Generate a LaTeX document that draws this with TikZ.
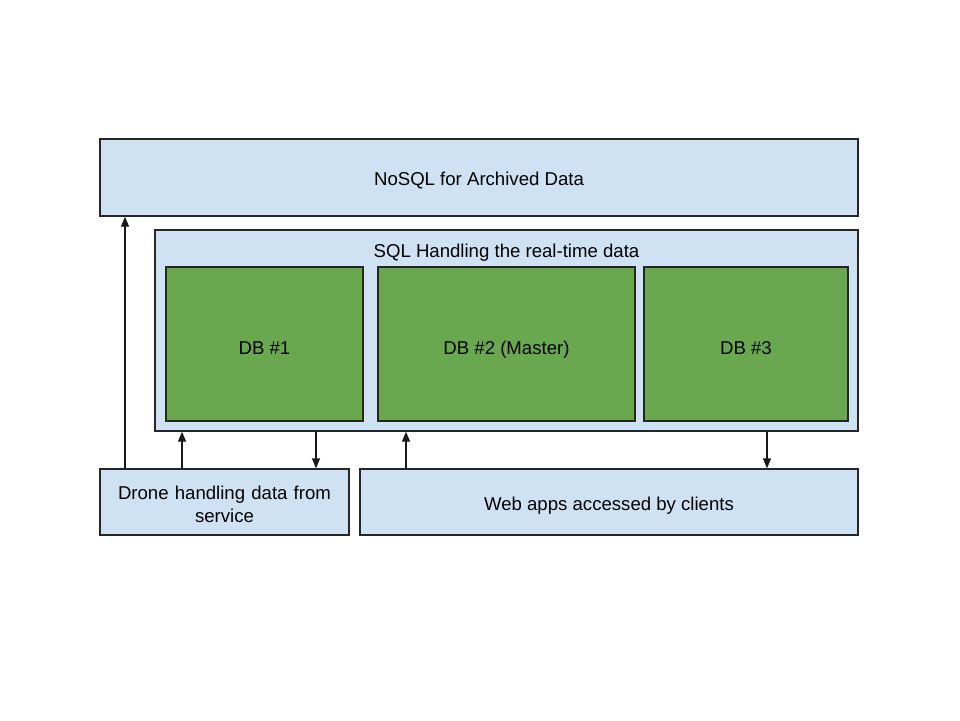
\documentclass[tikz,border=0pt]{standalone}
\usepackage{fontspec}
\setmainfont{Liberation Sans}
\usepackage{tikz}
\usetikzlibrary{positioning}
\usetikzlibrary{shapes.geometric, arrows.meta}
\definecolor{paleblue}{HTML}{CFE2F3}
\definecolor{dbgreen}{HTML}{6AA84F}
\tikzstyle{box} = [draw=black!85,line width=1.3pt,fill=paleblue,inner sep=0pt,align=center,text height=20pt,font=\fontsize{18.6}{23}\selectfont]
\tikzstyle{dbbox} = [box,fill=dbgreen,text depth=0pt,minimum height=154pt]
\tikzstyle{link} = [line width=1.3pt,-{Triangle[length=10pt,width=8pt]},black!90]

\begin{document}
\begin{tikzpicture}[x=1pt,y=-1pt]
				\useasboundingbox (0,0) rectangle (960,720);
				
				%Nodes
				\node (nosql) [box,minimum width=758pt,minimum height=77pt] at (479,177.5) {NoSQL for Archived Data};
				\node (sql) [box,minimum width=703pt,minimum height=201pt] at (506.5,330.5) {};
				\node (sqltitle) [font=\fontsize{18.6}{23}\selectfont] at (506.5,253) {SQL Handling the real-time data};
				
				\node (db1) [dbbox,minimum width=197pt] at (264.5,344) {DB \#1};
				\node (db2) [dbbox,minimum width=257pt] at (506.5,344) {DB \#2 (Master)};
				\node (db3) [dbbox,minimum width=204pt] at (746,344) {DB \#3};
				
				\node (drone) [box,text height=19pt,minimum width=249pt,minimum height=66pt,text width=240pt] at (224.5,502) {Drone handling data from\\service};
				\node (web) [box,minimum width=498pt,minimum height=66pt] at (609,502) {Web apps accessed by clients};
				
				%Lines
				\draw[link] (drone.north -| 125,0) -- (nosql.south -| 125,0);
				\draw[link] (drone.north -| 182,0) -- (sql.south -| 182,0);
				\draw[link] (sql.south -| 316,0) -- (drone.north -| 316,0);
				\draw[link] (web.north -| 406,0) -- (sql.south -| 406,0);
				\draw[link] (sql.south -| 767,0) -- (web.north -| 767,0);
				
			\end{tikzpicture}
\end{document}
